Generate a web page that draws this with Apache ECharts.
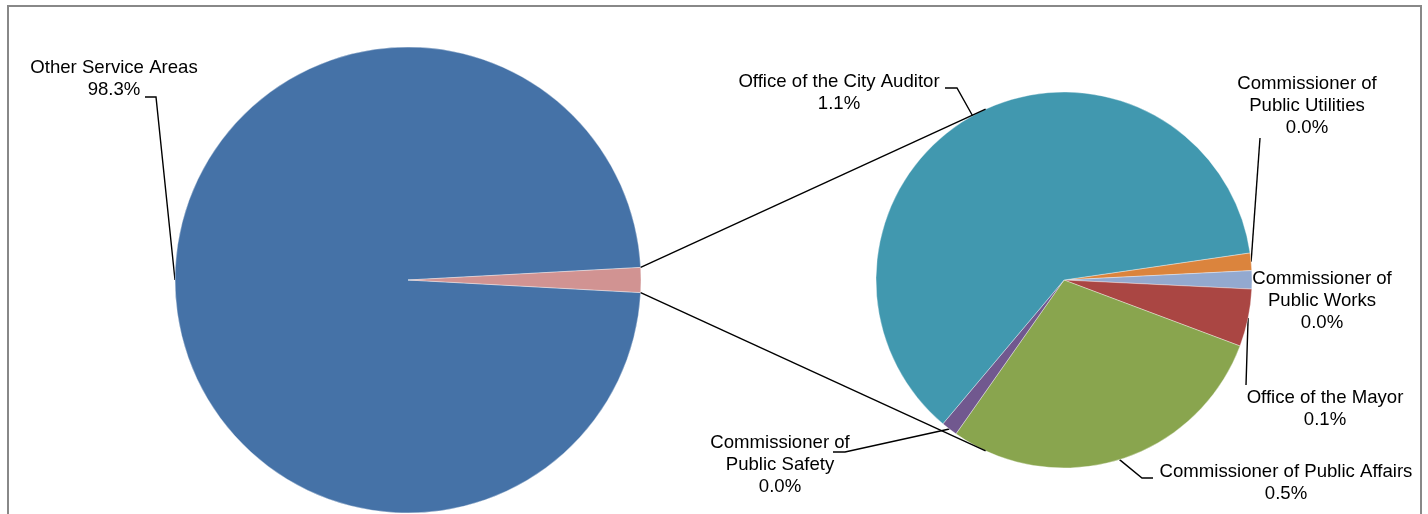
<!DOCTYPE html>
<html>
<head>
<meta charset="utf-8">
<script src="https://cdn.jsdelivr.net/npm/echarts@6/dist/echarts.min.js"></script>
<style>
  html, body { margin: 0; padding: 0; background: #fff; }
  #chart { width: 1428px; height: 514px; }
</style>
</head>
<body>
<div id="chart"></div>
<script>
// main pie: everything vs. the small offices (the small slice is the sum of the detail pie)
const mainNames = ['Other Service Areas', 'Small offices'];
const otherValue = 98.28;

// detail pie, clockwise from the orange slice
const detailNames = [
  'Commissioner of\nPublic Utilities',
  'Commissioner of\nPublic Works',
  'Office of the Mayor',
  'Commissioner of Public Affairs',
  'Commissioner of\nPublic Safety',
  'Office of the City Auditor'
];
const detailValues = [0.026, 0.027, 0.085, 0.50, 0.024, 1.06];

const mainColors = ['#4572A7', '#D19392'];
const detailColors = ['#DB843D', '#93A9CF', '#AA4643', '#89A54E', '#71588F', '#4198AF'];

const smallTotal = detailValues.reduce((a, b) => a + b, 0);
const mainValues = [otherValue, smallTotal];

// geometry of the two pies (pixels)
const C1 = [408, 280], R1 = 233;
const C2 = [1064, 280], R2 = 188;
const smallAngle = smallTotal / (otherValue + smallTotal) * 360;

// label placement: center x, top y, bend points after the slice edge
const mainLabelPos = {
  0: { x: 114, y: 57, line: [[156, 97], [145, 97]] }
};
const detailLabelPos = {
  0: { x: 1307, y: 73, line: [[1260, 138], [1260, 138]] },
  1: { x: 1322, y: 268, line: null },
  2: { x: 1325, y: 387, line: [[1246, 385], [1246, 385]] },
  3: { x: 1286, y: 461, line: [[1142, 478], [1153, 478]] },
  4: { x: 780, y: 432, line: [[845, 452], [833, 452]] },
  5: { x: 839, y: 71, line: [[957, 88], [945, 88]] }
};

function makeLayout(table) {
  return function (params) {
    const p = table[params.dataIndex];
    if (!p) return {};
    const start = params.labelLinePoints ? params.labelLinePoints[0] : [p.x, p.y];
    const pts = p.line ? [start, p.line[0], p.line[1]] : [start, start, start];
    return { x: p.x, y: p.y, align: 'center', verticalAlign: 'top', labelLinePoints: pts };
  };
}

// tangent from an outside point to the detail pie
function tangent(P, upper) {
  const dx = C2[0] - P[0], dy = C2[1] - P[1];
  const d = Math.sqrt(dx * dx + dy * dy);
  const th = Math.atan2(dy, dx);
  const a = Math.asin(R2 / d) * (upper ? -1 : 1);
  const len = Math.sqrt(d * d - R2 * R2);
  return [P[0] + len * Math.cos(th + a), P[1] + len * Math.sin(th + a)];
}
const half = smallAngle / 2 * Math.PI / 180;
const pTop = [C1[0] + R1 * Math.cos(half), C1[1] - R1 * Math.sin(half)];
const pBot = [C1[0] + R1 * Math.cos(half), C1[1] + R1 * Math.sin(half)];
const tTop = tangent(pTop, true);
const tBot = tangent(pBot, false);

const labelText = {
  color: '#000',
  fontFamily: '"Liberation Sans", Arial, sans-serif',
  fontSize: 18.6,
  lineHeight: 22
};

const chart = echarts.init(document.getElementById('chart'), null, { renderer: 'canvas' });
chart.setOption({
  backgroundColor: '#fff',
  animation: false,
  graphic: [
    {
      type: 'rect', z: 0,
      shape: { x: 8, y: 6, width: 1413, height: 600 },
      style: { fill: null, stroke: '#888', lineWidth: 2 }
    },
    {
      type: 'line', z: 10,
      shape: { x1: pTop[0], y1: pTop[1], x2: tTop[0], y2: tTop[1] },
      style: { stroke: '#000', lineWidth: 1.4 }
    },
    {
      type: 'line', z: 10,
      shape: { x1: pBot[0], y1: pBot[1], x2: tBot[0], y2: tBot[1] },
      style: { stroke: '#000', lineWidth: 1.4 }
    }
  ],
  series: [
    {
      type: 'pie',
      center: C1,
      radius: R1,
      // big slice first, so the small one ends up centred on 3 o'clock
      startAngle: -smallAngle / 2,
      clockwise: true,
      avoidLabelOverlap: false,
      data: mainNames.map((n, i) => ({
        name: n, value: mainValues[i],
        itemStyle: { color: mainColors[i] },
        label: { show: i === 0 },
        labelLine: { show: i === 0 }
      })),
      itemStyle: { borderColor: 'rgba(255,255,255,0.6)', borderWidth: 0.6 },
      label: Object.assign({
        position: 'outside',
        formatter: p => p.name + '\n' + p.value.toFixed(1) + '%'
      }, labelText),
      labelLine: { lineStyle: { color: '#000', width: 1.4 } },
      labelLayout: makeLayout(mainLabelPos),
      emphasis: { disabled: true }
    },
    {
      type: 'pie',
      center: C2,
      radius: R2,
      startAngle: 8.3,
      clockwise: true,
      avoidLabelOverlap: false,
      data: detailNames.map((n, i) => ({
        name: n, value: detailValues[i],
        itemStyle: { color: detailColors[i] }
      })),
      itemStyle: { borderColor: 'rgba(255,255,255,0.6)', borderWidth: 0.6 },
      label: Object.assign({
        position: 'outside',
        formatter: p => p.name + '\n' + p.value.toFixed(1) + '%'
      }, labelText),
      labelLine: { show: true, lineStyle: { color: '#000', width: 1.4 } },
      labelLayout: makeLayout(detailLabelPos),
      emphasis: { disabled: true }
    }
  ]
});
</script>
</body>
</html>
